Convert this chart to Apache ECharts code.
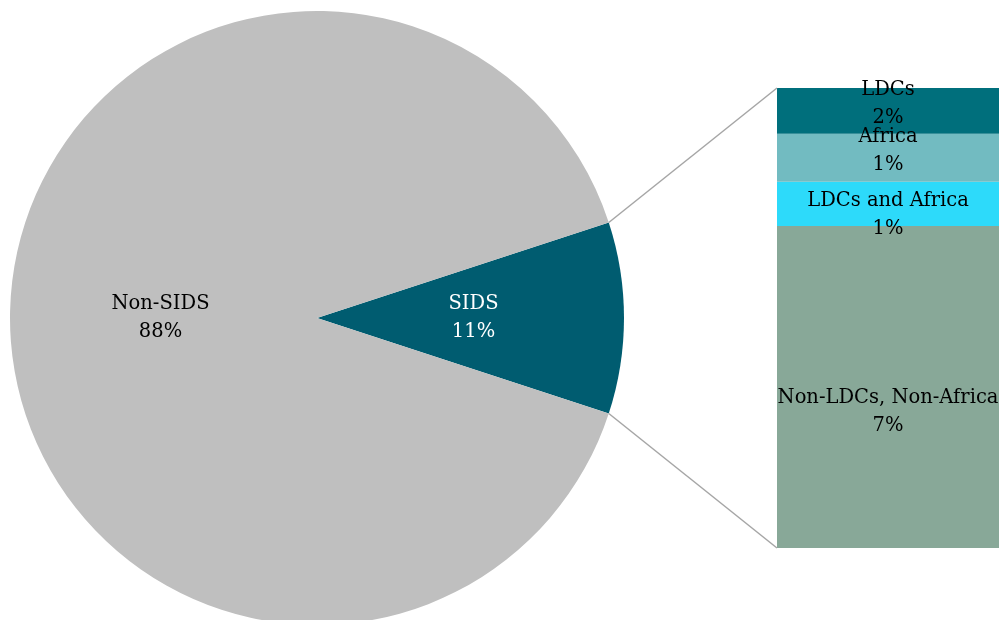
<!DOCTYPE html>
<html>
<head>
<meta charset="utf-8">
<script src="https://cdn.jsdelivr.net/npm/echarts@6/dist/echarts.min.js"></script>
<style>html,body{margin:0;padding:0;background:#fff;}#c{width:999px;height:620px;}</style>
</head>
<body>
<div id="c"></div>
<script>
// Pie data (share of total) and displayed labels
const pieNames = ['SIDS', 'Non-SIDS'];
const pieValues = [10.07, 89.93];
const pieLabels = ['11%', '88%'];

// Breakdown of SIDS (top to bottom in the bar)
const barNames = ['LDCs', 'Africa', 'LDCs and Africa', 'Non-LDCs, Non-Africa'];
const barValues = [1.0, 1.05, 0.97, 7.05];
const barLabels = ['2%', '1%', '1%', '7%'];

// Styling
const pieColors = ['#005C70', '#BFBFBF'];
const pieLabelColors = ['#ffffff', '#000000'];
const barColors = ['#006F7C', '#72BBC1', '#2DDAFA', '#88A898'];
const labelNudge = [-7, -7, 11, 25];
const FONT = '"DejaVu Serif", serif';
const FSIZE = 19.5;
const LH = 28;

const chart = echarts.init(document.getElementById('c'), null, {renderer: 'canvas'});

const pieCenter = [317, 318];
const pieRadius = 307;
const sidsAngle = pieValues[0] / (pieValues[0] + pieValues[1]) * 360;

const barTotal = barValues.reduce((a, b) => a + b, 0);

// stack from bottom: reverse order
const barSeries = [];
for (let i = barNames.length - 1; i >= 0; i--) {
  barSeries.push({
    type: 'bar',
    name: barNames[i],
    stack: 'sids',
    barWidth: '100%',
    xAxisIndex: 0,
    yAxisIndex: 0,
    data: [barValues[i]],
    itemStyle: {color: barColors[i]},
    label: {
      show: true,
      position: 'inside',
      offset: [0, labelNudge[i]],
      formatter: barNames[i] + '\n' + barLabels[i],
      color: '#000',
      fontFamily: FONT,
      fontSize: FSIZE,
      lineHeight: LH
    },
    silent: true
  });
}

const option = {
  animation: false,
  backgroundColor: '#ffffff',
  grid: {left: 777, top: 88, width: 238, height: 460},
  xAxis: {type: 'category', data: ['SIDS'], show: false},
  yAxis: {type: 'value', min: 0, max: barTotal, show: false},
  series: [
    {
      type: 'pie',
      center: pieCenter,
      radius: pieRadius,
      startAngle: sidsAngle / 2,
      clockwise: true,
      silent: true,
      data: pieNames.map((n, i) => ({
        name: n,
        value: pieValues[i],
        itemStyle: {color: pieColors[i]},
        label: {color: pieLabelColors[i]}
      })),
      label: {
        show: true,
        position: 'inside',
        formatter: p => p.name + '\n' + pieLabels[p.dataIndex],
        fontFamily: FONT,
        fontSize: FSIZE,
        lineHeight: LH
      },
      labelLine: {show: false}
    }
  ].concat(barSeries)
};
chart.setOption(option);

// connector lines from SIDS slice edges to bar corners
const a = sidsAngle / 2 * Math.PI / 180;
const p1 = [pieCenter[0] + pieRadius * Math.cos(a), pieCenter[1] - pieRadius * Math.sin(a)];
const p2 = [pieCenter[0] + pieRadius * Math.cos(a), pieCenter[1] + pieRadius * Math.sin(a)];
const topPx = chart.convertToPixel({gridIndex: 0}, [0, barTotal]);
const botPx = chart.convertToPixel({gridIndex: 0}, [0, 0]);
const leftX = 777;
chart.setOption({
  graphic: [
    {type: 'line', shape: {x1: p1[0], y1: p1[1], x2: leftX, y2: topPx[1]}, style: {stroke: '#A6A6A6', lineWidth: 1.5}, z: 10},
    {type: 'line', shape: {x1: p2[0], y1: p2[1], x2: leftX, y2: botPx[1]}, style: {stroke: '#A6A6A6', lineWidth: 1.5}, z: 10}
  ]
});
</script>
</body>
</html>
